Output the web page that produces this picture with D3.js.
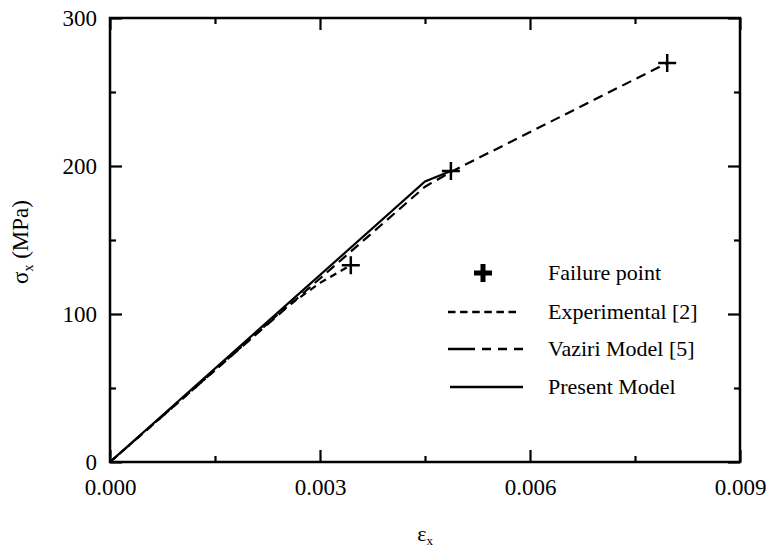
<!DOCTYPE html>
<html>
<head>
<meta charset="utf-8">
<script src="https://cdn.jsdelivr.net/npm/d3@7"></script>
<style>
  body { margin: 0; background: #fff; }
  svg text { font-family: "Liberation Serif", "DejaVu Serif", serif; fill: #000; }
</style>
</head>
<body>
<svg id="chart" width="769" height="552"></svg>
<script>
// strain / stress values
const expStrain = [0, 0.0015, 0.0025, 0.003, 0.00344];
const expStress = [0, 62, 104, 121, 133];
const vazStrain = [0, 0.0015, 0.003, 0.0045, 0.00487, 0.00796];
const vazStress = [0, 62, 124, 186, 196, 269.6];
const preStrain = [0, 0.0045, 0.00487];
const preStress = [0, 189.5, 196.6];
const failStrain = [0.00344, 0.00487, 0.00796];
const failStress = [133, 196.6, 269.6];

const xMajor = [0, 0.003, 0.006, 0.009];
const xMinor = [0.0015, 0.0045, 0.0075];
const yMajor = [0, 100, 200, 300];
const yMinor = [50, 150, 250];
const legendLabels = ["Failure point", "Experimental [2]", "Vaziri Model [5]", "Present Model"];

const svg = d3.select("#chart");
const margin = {top: 18, right: 29, bottom: 90, left: 110};
const W = 769, H = 552;
const width = W - margin.left - margin.right,
      height = H - margin.top - margin.bottom;
const g = svg.append("g").attr("transform", `translate(${margin.left},${margin.top})`);

const x = d3.scaleLinear().domain([0, 0.009]).range([0, width]);
const y = d3.scaleLinear().domain([0, 300]).range([height, 0]);

const tickFs = 23, legFs = 22;

// axes, ticks inward on all four sides
const styleAxis = sel => {
  sel.select(".domain").remove();
  sel.selectAll(".tick line").attr("stroke", "#000").attr("stroke-width", 2.2);
  sel.selectAll("text").style("font-size", tickFs + "px").attr("fill", "#000");
};
g.append("g").attr("transform", `translate(0,${height})`)
  .call(d3.axisBottom(x).tickValues(xMajor).tickSize(-12).tickPadding(17).tickFormat(d3.format(".3f")))
  .call(styleAxis);
g.append("g").attr("transform", `translate(0,${height})`)
  .call(d3.axisBottom(x).tickValues(xMinor).tickSize(-6).tickFormat(""))
  .call(styleAxis);
g.append("g")
  .call(d3.axisTop(x).tickValues(xMajor).tickSize(-12).tickFormat(""))
  .call(styleAxis);
g.append("g")
  .call(d3.axisTop(x).tickValues(xMinor).tickSize(-6).tickFormat(""))
  .call(styleAxis);
g.append("g")
  .call(d3.axisLeft(y).tickValues(yMajor).tickSize(-12).tickPadding(13).tickFormat(d3.format("d")))
  .call(styleAxis);
g.append("g")
  .call(d3.axisLeft(y).tickValues(yMinor).tickSize(-6).tickFormat(""))
  .call(styleAxis);
g.append("g").attr("transform", `translate(${width},0)`)
  .call(d3.axisRight(y).tickValues(yMajor).tickSize(-12).tickFormat(""))
  .call(styleAxis);
g.append("g").attr("transform", `translate(${width},0)`)
  .call(d3.axisRight(y).tickValues(yMinor).tickSize(-6).tickFormat(""))
  .call(styleAxis);

g.append("rect").attr("width", width).attr("height", height)
  .attr("fill", "none").attr("stroke", "#000").attr("stroke-width", 2.5);

// curves
const line = d3.line().x(d => x(d[0])).y(d => y(d[1]));
const series = [
  {xs: expStrain, ys: expStress, dash: "7,5"},
  {xs: vazStrain, ys: vazStress, dash: "10,6"},
  {xs: preStrain, ys: preStress, dash: null}
];
series.forEach(s => {
  g.append("path")
    .datum(d3.zip(s.xs, s.ys))
    .attr("fill", "none").attr("stroke", "#000").attr("stroke-width", 2.2)
    .attr("stroke-dasharray", s.dash)
    .attr("d", line);
});

// failure points
d3.zip(failStrain, failStress).forEach(p => {
  const cx = x(p[0]), cy = y(p[1]);
  g.append("path").attr("d", `M${cx - 9},${cy}H${cx + 9}M${cx},${cy - 9}V${cy + 9}`)
    .attr("stroke", "#000").attr("stroke-width", 2.5);
});

// legend
const lg = svg.append("g");
const lx0 = 448, lx1 = 518, tx = 548;
const rowsY = [273, 312, 349, 387];
lg.append("path").attr("d", `M${483 - 9},${rowsY[0]}H${483 + 9}M483,${rowsY[0] - 9}V${rowsY[0] + 9}`)
  .attr("stroke", "#000").attr("stroke-width", 5);
lg.append("line").attr("x1", lx0).attr("x2", lx1).attr("y1", rowsY[1]).attr("y2", rowsY[1])
  .attr("stroke", "#000").attr("stroke-width", 2.5).attr("stroke-dasharray", "7.5,4.6");
lg.append("path").attr("d", `M${lx0},${rowsY[2]}H${lx0 + 27}M${lx0 + 34},${rowsY[2]}H${lx0 + 43}M${lx0 + 50},${rowsY[2]}H${lx0 + 59}M${lx0 + 66},${rowsY[2]}H${lx0 + 75}`)
  .attr("stroke", "#000").attr("stroke-width", 2.5);
lg.append("line").attr("x1", lx0 + 2).attr("x2", lx0 + 75).attr("y1", rowsY[3]).attr("y2", rowsY[3])
  .attr("stroke", "#000").attr("stroke-width", 2.5);
legendLabels.forEach((t, i) => {
  lg.append("text").attr("x", tx).attr("y", rowsY[i]).attr("dy", "0.33em")
    .style("font-size", legFs + "px").text(t);
});

// axis titles
const xt = svg.append("text").attr("x", margin.left + width / 2).attr("y", 541)
  .attr("text-anchor", "middle").style("font-size", "22px");
xt.append("tspan").text("ε");
xt.append("tspan").attr("dy", 4).style("font-size", "13px").text("x");

const yt = svg.append("text").attr("transform", "translate(28,242) rotate(-90)")
  .attr("text-anchor", "middle").style("font-size", "23px");
yt.append("tspan").text("σ");
yt.append("tspan").attr("dy", 5).style("font-size", "14px").text("x");
yt.append("tspan").attr("dy", -5).text(" (MPa)");
</script>
</body>
</html>
